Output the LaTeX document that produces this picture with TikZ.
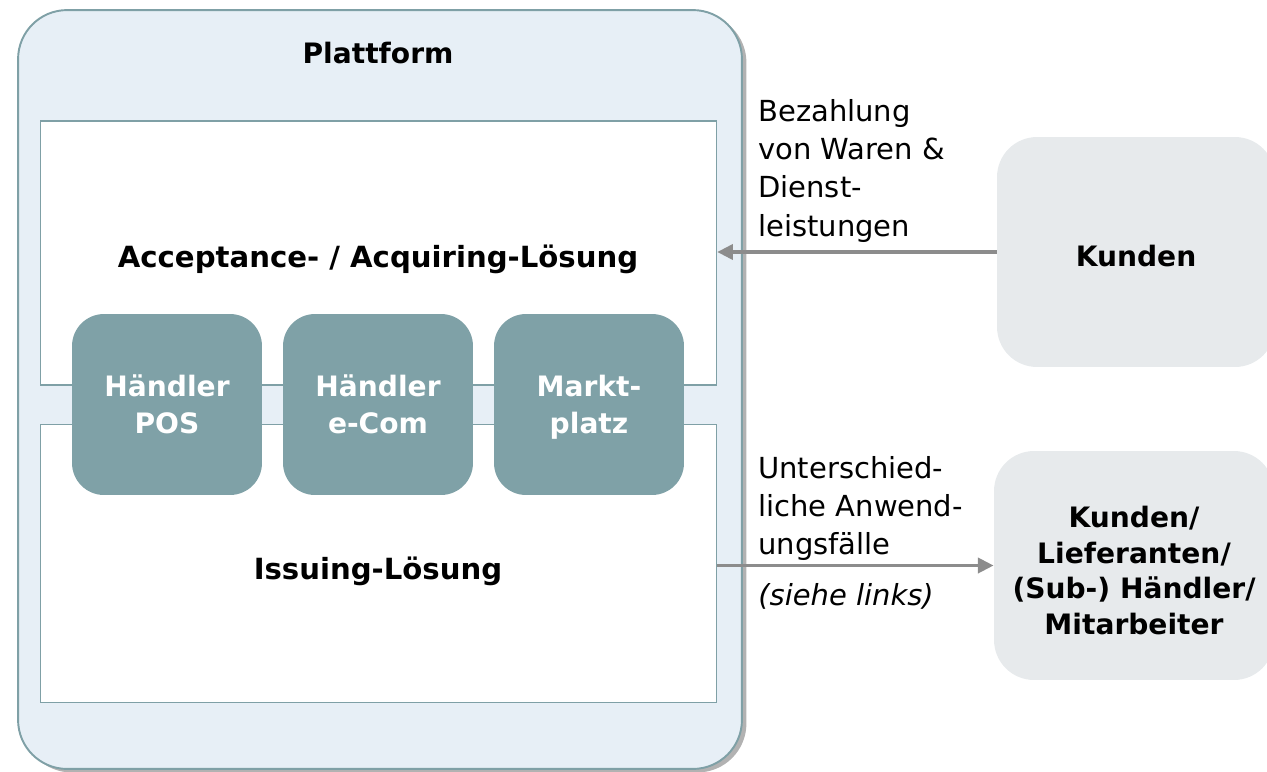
\documentclass[tikz,border=0pt]{standalone}
\usepackage{fontspec}
\setmainfont{DejaVu Sans}
\usepackage{tikz}
\usetikzlibrary{arrows.meta, positioning, shadows}

\definecolor{platfill}{HTML}{E7EFF6}
\definecolor{platline}{HTML}{7FA0A6}
\definecolor{tilefill}{HTML}{7FA1A7}
\definecolor{partyfill}{HTML}{E7EAEC}
\definecolor{arrowgrey}{HTML}{8C8C8C}

\begin{document}
\begin{tikzpicture}[
    x=0.02cm, y=-0.02cm,
    every node/.style={inner sep=0pt},
    platbox/.style={draw=platline, line width=1.1pt, fill=platfill, rounded corners=0.98cm,
        drop shadow={shadow xshift=0.09cm, shadow yshift=-0.07cm, fill=black, opacity=0.3}},
    solbox/.style={draw=platline, line width=0.8pt, fill=white, minimum width=13.52cm},
    tile/.style={fill=tilefill, rounded corners=0.64cm, minimum width=3.8cm, minimum height=3.62cm,
        text=white, font=\fontsize{16}{21}\selectfont\bfseries, align=center, text depth=0pt},
    party/.style={fill=partyfill, rounded corners=0.8cm, align=center,
        font=\fontsize{16}{20.4}\selectfont\bfseries},
    title/.style={font=\fontsize{16}{20}\selectfont\bfseries, anchor=base},
    flowlabel/.style={anchor=north west, align=left, font=\fontsize{16.5}{21.8}\selectfont},
    arrow/.style={-{Triangle[length=9pt, width=8.5pt]}, line width=2.2pt, draw=arrowgrey}
]
\useasboundingbox (0,0) rectangle (1267,771);
\clip (0,0) rectangle (1267,771);

% Plattform
\node[platbox, minimum width=14.48cm, minimum height=15.18cm] (plat) at (380,389.5) {};
\node[title] (plattitle) at (378,63.3) {Plattform};

% Loesungen
\node[solbox, minimum height=5.28cm] (accept) at (378.5,253) {};
\node[solbox, minimum height=5.56cm] (issue) at (378.5,563.5) {};
\node[title, font=\fontsize{16.6}{20}\selectfont\bfseries] (accepttitle) at (378,267) {Acceptance- / Acquiring-Lösung};
\node[title, font=\fontsize{16.6}{20}\selectfont\bfseries] (issuetitle) at (378,579) {Issuing-Lösung};

% Haendler
\node[tile] (pos) at (167,404.5) {Händler\\POS};
\node[tile] (ecom) at (378,404.5) {Händler\\e-Com};
\node[tile] (markt) at (589,404.5) {Markt-\\platz};

% rechte Seite
\node[party, minimum width=5.56cm, minimum height=4.6cm] (kunden) at (1136,252)
    {\rule{0pt}{16.7pt}Kunden};
\node[party, minimum width=5.6cm, minimum height=4.58cm] (partner) at (1134,565.5)
    {\rule{0pt}{17.8pt}Kunden/\\Lieferanten/\\(Sub-) Händler/\\Mitarbeiter};

\node[flowlabel] (paylabel) at (758,99) {Bezahlung\\von Waren \&\\Dienst-\\leistungen};
\node[flowlabel] (uselabel) at (758,456) {Unterschied-\\liche Anwend-\\ungsfälle\\[7pt]\textit{(siehe links)}};

% Pfeile
\draw[arrow] (kunden.west) -- (kunden.west -| accept.east);
\draw[arrow] (issue.east |- partner.west) -- (partner.west);

\end{tikzpicture}
\end{document}
